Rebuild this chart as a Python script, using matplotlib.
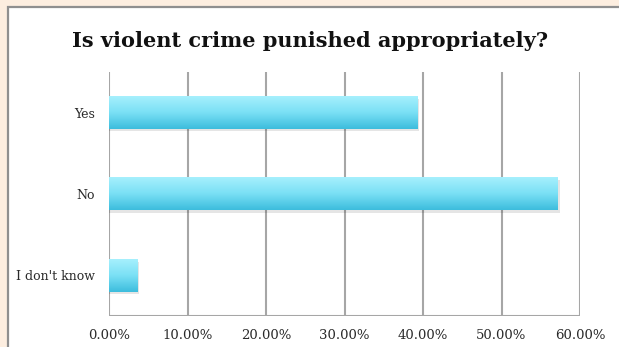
import numpy as np
import matplotlib
matplotlib.use("Agg")
import matplotlib.pyplot as plt
from matplotlib.patches import Rectangle
from matplotlib.colors import LinearSegmentedColormap

categories = ["Yes", "No", "I don't know"]
shares = [39.29, 57.14, 3.57]
tick_values = [0, 10, 20, 30, 40, 50, 60]
tick_labels = ["0.00%", "10.00%", "20.00%", "30.00%", "40.00%", "50.00%", "60.00%"]
title = "Is violent crime punished appropriately?"

W, H = 619, 347
fig = plt.figure(figsize=(W / 100, H / 100), dpi=100)
fig.patch.set_facecolor("#fdeee0")

# white chart panel with a grey frame, sitting behind the plot axes
bg = fig.add_axes([0, 0, 1, 1], zorder=-1)
bg.set_xlim(0, W)
bg.set_ylim(H, 0)
bg.axis("off")
bg.add_patch(Rectangle((8, 7), W + 20, H + 20, facecolor="white",
                       edgecolor="#8f8f8f", linewidth=1.6))

ax = fig.add_axes([109 / W, 1 - 316 / H, (580 - 109) / W, (316 - 72) / H], zorder=1)
ax.set_facecolor("none")

n = len(categories)
ypos = np.arange(n)

grad = LinearSegmentedColormap.from_list("bar", ["#a6f0fd", "#7ae0f5", "#3dbddd"])
bar_h = 0.4
g = np.linspace(0, 1, 64).reshape(-1, 1)
for y, v in zip(ypos, shares):
    # soft shadow
    ax.add_patch(Rectangle((0, y - bar_h / 2 + 0.03), v + 0.25, bar_h,
                           facecolor="#000000", alpha=0.10, edgecolor="none", zorder=2))
    ax.imshow(g, cmap=grad, aspect="auto", interpolation="bilinear",
              extent=(0, v, y + bar_h / 2, y - bar_h / 2), zorder=3)

ax.set_xlim(0, 60)
ax.set_ylim(n - 0.5, -0.5)

for t in tick_values:
    ax.axvline(t, color="#a6a6a6", linewidth=1.5, zorder=1)
ax.axhline(n - 0.5, color="#a6a6a6", linewidth=1.5, zorder=1)

for s in ax.spines.values():
    s.set_visible(False)

ax.set_xticks(tick_values)
ax.set_xticklabels(tick_labels)
ax.set_yticks(ypos)
ax.set_yticklabels(categories)
ax.tick_params(length=0, colors="#2a2a2a")
ax.tick_params(axis="x", pad=9.5, labelsize=9.5)
ax.tick_params(axis="y", pad=10, labelsize=9)
for lab in ax.get_xticklabels() + ax.get_yticklabels():
    lab.set_family("DejaVu Serif")
    lab.set_color("#2a2a2a")

fig.text(310 / W, 1 - 41 / H, title, ha="center", va="center",
         fontsize=15, fontweight="bold", family="DejaVu Serif", color="#111111")

fig.savefig("out.png", dpi=100, facecolor=fig.get_facecolor())
